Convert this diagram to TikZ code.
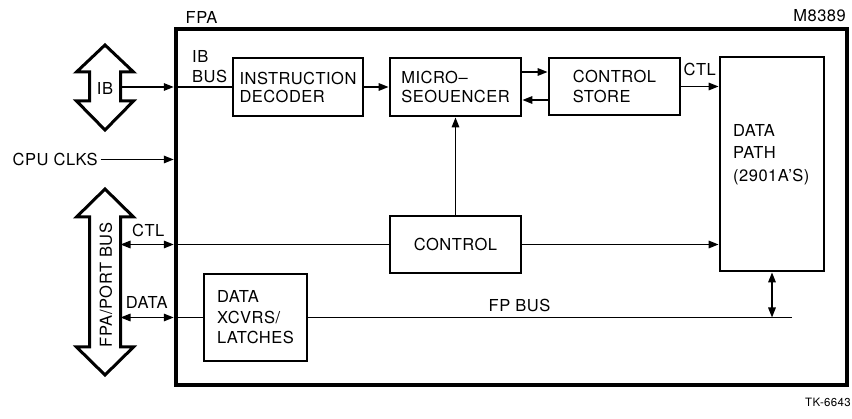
\documentclass[tikz,border=0pt]{standalone}
\usepackage{fontspec}
\setmainfont[LetterSpace=3]{TeX Gyre Heros}
\usetikzlibrary{arrows.meta}
\begin{document}
\begin{tikzpicture}[x=1pt,y=-1pt,
  lbl/.style={font=\fontsize{16.5}{20}\selectfont, inner sep=0pt, align=left},
  blk/.style={draw, line width=2.8pt, rectangle, inner sep=0pt, align=left,
              font=\fontsize{16.5}{20}\selectfont},
  wire/.style={line width=1.6pt},
  arr/.style={wire, -{Triangle[length=10pt,width=7.5pt]}},
  darr/.style={wire, {Triangle[length=10pt,width=7.5pt]}-{Triangle[length=10pt,width=7.5pt]}},
  fat/.style={line width=3pt, line join=miter}
]
\useasboundingbox (0,0) rectangle (852,419);

% outer FPA board
\node[draw, line width=4.5pt, minimum width=671pt, minimum height=356pt, inner sep=0pt] (fpa) at (511.5,207) {};
\node[lbl, anchor=base west] (fpalbl) at (185.5,23.5) {FPA};
\node[lbl, anchor=base east] (mlbl) at (846,22) {M8389};

% blocks
\node[blk, minimum width=130pt, minimum height=58pt, font=\fontsize{16.5}{18}\selectfont] (dec) at (298,87) {INSTRUCTION\\DECODER};
\node[blk, minimum width=131pt, minimum height=58pt, font=\fontsize{16.5}{19}\selectfont] (micro) at (455.5,87) {MICRO–\\SEOUENCER};
\node[blk, minimum width=131pt, minimum height=57pt] (cs) at (614.5,86.5) {CONTROL\\STORE};
\node[blk, minimum width=104pt, minimum height=214pt] (dp) at (772,164) {};
\node[lbl, anchor=north west, font=\fontsize{16.5}{22.5}\selectfont] (dptxt) at (733,124) {DATA\\PATH\\(2901A'S)};
\node[blk, minimum width=131pt, minimum height=57pt] (ctl) at (455.5,244.5) {CONTROL};
\node[blk, minimum width=103pt, minimum height=87pt, font=\fontsize{16.5}{20.5}\selectfont] (xcvr) at (255.5,317.5) {DATA\\XCVRS/\\LATCHES};

% fat bus arrows
\draw[fat] (105,45) -- (133.5,72) -- (120.5,72) -- (120.5,101) -- (133.5,101) -- (105,130)
  -- (76.5,101) -- (89.5,101) -- (89.5,72) -- (76.5,72) -- cycle;
\node[lbl, anchor=base] (ibtxt) at (105,95) {IB};
\draw[fat] (105,189) -- (133.5,217) -- (120.5,217) -- (120.5,347) -- (133.5,347) -- (105,375)
  -- (76.5,347) -- (89.5,347) -- (89.5,217) -- (76.5,217) -- cycle;
\node[lbl, rotate=90] (fpbtxt) at (106,285) {FPA/PORT BUS};

\coordinate (ibr) at (120.5,87);
\coordinate (pctl) at (120.5,244.5);
\coordinate (pdata) at (120.5,317.5);
\coordinate (fpend) at (792,317.5);

% labels
\node[lbl, anchor=north west] (ibbus) at (192,50) {IB\\BUS};
\node[lbl, anchor=base west] (clk) at (12.5,165.5) {CPU CLKS};
\node[lbl, anchor=base west] (ctllbl) at (132,236.5) {CTL};
\node[lbl, anchor=base west] (datalbl) at (125.7,308.3) {DATA};
\node[lbl, anchor=base west] (ctl2lbl) at (683.5,76) {CTL};
\node[lbl, anchor=base west] (fpbus) at (488.5,311.7) {FP BUS};
\node[inner sep=0pt, anchor=base west, font=\fontsize{11.5}{13}\selectfont] (tk) at (805,406.7) {TK-6643};

% connectors
\draw[arr] (ibr) -- (ibr -| fpa.west);
\draw[wire] (ibr -| fpa.west) -- (dec.west);
\draw[arr, shorten <=3pt] (clk.east) -- (clk.east -| fpa.west);
\draw[arr] (dec) -- (micro);
\draw[arr] ([yshift=15pt]micro.east) -- ([yshift=15pt]micro.east -| cs.west);
\draw[arr] ([yshift=-13pt]micro.east -| cs.west) -- ([yshift=-13pt]micro.east);
\draw[arr] (cs.east) -- (cs.east -| dp.west);
\draw[arr] (ctl.north) -- (micro.south);
\draw[darr] (pctl) -- (pctl -| fpa.west);
\draw[wire] (pctl -| fpa.west) -- (ctl.west);
\draw[arr] (ctl.east) -- (ctl.east -| dp.west);
\draw[darr] (pdata) -- (pdata -| fpa.west);
\draw[wire] (pdata -| fpa.west) -- (xcvr.west);
\draw[wire] (xcvr.east) -- (fpend);
\draw[darr] (dp.south) -- (dp.south |- fpend);
\end{tikzpicture}
\end{document}
